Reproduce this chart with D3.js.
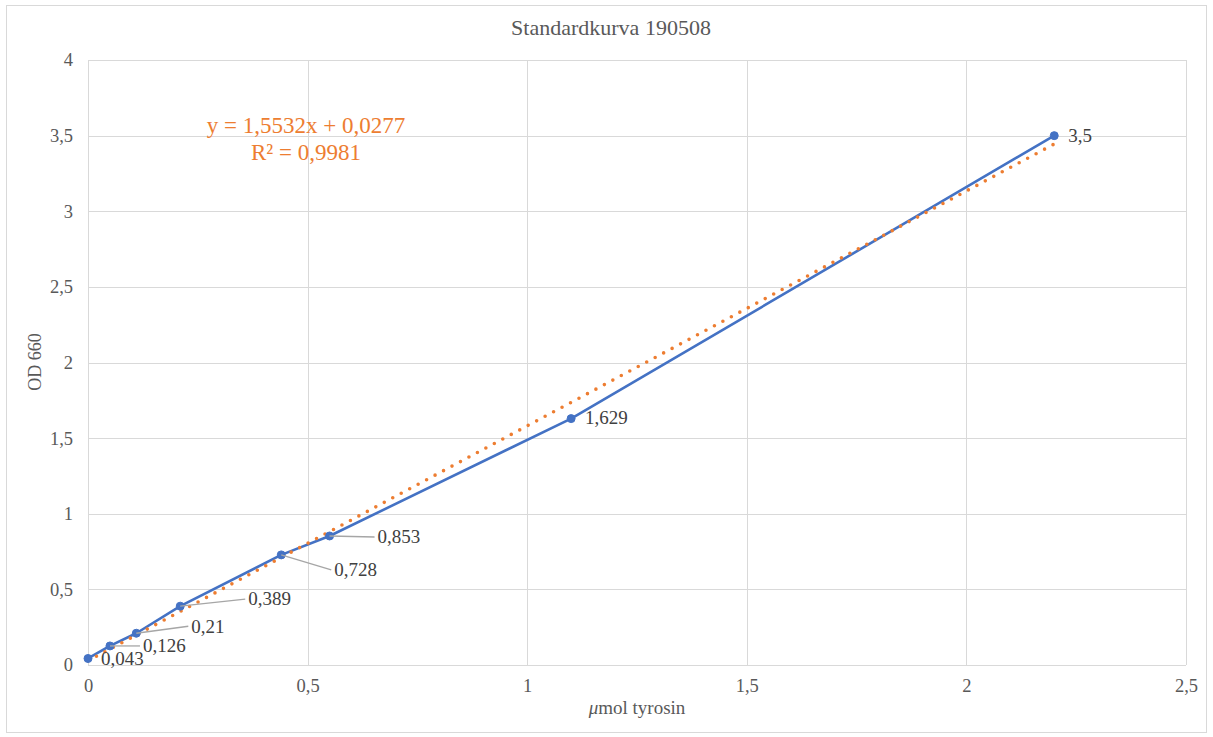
<!DOCTYPE html>
<html>
<head>
<meta charset="utf-8">
<script src="https://cdn.jsdelivr.net/npm/d3@7/dist/d3.min.js"></script>
<style>
  html, body { margin: 0; padding: 0; background: #fff; }
  svg { display: block; font-family: "Liberation Serif", "Times New Roman", serif; }
</style>
</head>
<body>
<svg id="chart" width="1213" height="737"></svg>
<script>
// ---- data ----
const xValues = [0, 0.05, 0.11, 0.21, 0.44, 0.55, 1.1, 2.2];
const yValues = [0.043, 0.126, 0.21, 0.389, 0.728, 0.853, 1.629, 3.5];
const trendSlope = 1.5532;
const trendIntercept = 0.0277;
const trendR2 = 0.9981;
const xTicks = [0, 0.5, 1, 1.5, 2, 2.5];
const yTicks = [0, 0.5, 1, 1.5, 2, 2.5, 3, 3.5, 4];
const chartTitle = "Standardkurva 190508";
const yTitle = "OD 660";

// ---- layout (label placement, pixels) ----
const labelLayout = [
  {dx: 13, dy: 0, leader: false},
  {dx: 33, dy: 0, leader: true},
  {dx: 55, dy: -7, leader: true},
  {dx: 68, dy: -7, leader: true},
  {dx: 53, dy: 15, leader: true},
  {dx: 48, dy: 1, leader: true},
  {dx: 14, dy: -1, leader: false},
  {dx: 14, dy: 0, leader: false}
];

const svg = d3.select("#chart");
const plot = {left: 88, right: 1186, top: 60, bottom: 665};

const locale = d3.formatLocale({decimal: ",", thousands: " ", grouping: [3], currency: ["", ""]});
const fmt = v => locale.format("")(v);

// chart border
svg.append("rect").attr("x", 6.5).attr("y", 5.5).attr("width", 1200).attr("height", 727)
  .attr("fill", "#fff").attr("stroke", "#D9D9D9").attr("stroke-width", 1);

const x = d3.scaleLinear().domain([0, 2.5]).range([plot.left, plot.right]);
const y = d3.scaleLinear().domain([0, 4]).range([plot.bottom, plot.top]);

// gridlines
const grid = svg.append("g");
grid.selectAll("line.h").data(yTicks).join("line")
  .attr("x1", plot.left).attr("x2", plot.right)
  .attr("y1", d => Math.round(y(d)) + 0.5).attr("y2", d => Math.round(y(d)) + 0.5)
  .attr("stroke", "#D9D9D9").attr("stroke-width", 1);
grid.selectAll("line.v").data(xTicks).join("line")
  .attr("y1", plot.top).attr("y2", plot.bottom)
  .attr("x1", d => Math.round(x(d)) + 0.5).attr("x2", d => Math.round(x(d)) + 0.5)
  .attr("stroke", "#D9D9D9").attr("stroke-width", 1);

// axes (labels only, via d3 axes)
const xAxis = svg.append("g").attr("transform", `translate(0,${plot.bottom})`)
  .call(d3.axisBottom(x).tickValues(xTicks).tickFormat(fmt).tickSize(0).tickPadding(14));
const yAxis = svg.append("g").attr("transform", `translate(${plot.left},0)`)
  .call(d3.axisLeft(y).tickValues(yTicks).tickFormat(fmt).tickSize(0).tickPadding(15));
[xAxis, yAxis].forEach(a => {
  a.select(".domain").remove();
  a.attr("font-family", "Liberation Serif");
  a.selectAll("text").attr("font-family", "Liberation Serif").attr("font-size", 18.5).attr("fill", "#595959");
});

// title
svg.append("text").attr("x", 611).attr("y", 35).attr("text-anchor", "middle")
  .attr("font-size", 22).attr("fill", "#595959").text(chartTitle);

// x axis title
const xt = svg.append("text").attr("x", 637).attr("y", 714).attr("text-anchor", "middle")
  .attr("font-size", 19).attr("fill", "#595959");
xt.append("tspan").attr("font-style", "italic").text("μ");
xt.append("tspan").text("mol tyrosin");

// y axis title
svg.append("text").attr("transform", "translate(41,362) rotate(-90)").attr("text-anchor", "middle")
  .attr("font-size", 18).attr("fill", "#595959").text(yTitle);

const pts = xValues.map((v, i) => ({x: v, y: yValues[i], lay: labelLayout[i]}));

// series line
svg.append("path").datum(pts)
  .attr("d", d3.line().x(d => x(d.x)).y(d => y(d.y)))
  .attr("fill", "none").attr("stroke", "#4472C4").attr("stroke-width", 2.6)
  .attr("stroke-linejoin", "round");

// trendline
const xMin = d3.min(xValues), xMax = d3.max(xValues);
svg.append("path").datum([xMin, xMax])
  .attr("d", d3.line().x(d => x(d)).y(d => y(trendSlope * d + trendIntercept)))
  .attr("fill", "none").attr("stroke", "#ED7D31").attr("stroke-width", 3.6)
  .attr("stroke-linecap", "round").attr("stroke-dasharray", "0 9.6");

// markers
svg.selectAll("circle.m").data(pts).join("circle")
  .attr("cx", d => x(d.x)).attr("cy", d => y(d.y)).attr("r", 4)
  .attr("fill", "#4472C4").attr("stroke", "#4472C4");

// leader lines
svg.selectAll("line.leader").data(pts.filter(d => d.lay.leader)).join("line")
  .attr("x1", d => x(d.x)).attr("y1", d => y(d.y))
  .attr("x2", d => x(d.x) + d.lay.dx - 3).attr("y2", d => y(d.y) + d.lay.dy)
  .attr("stroke", "#A6A6A6").attr("stroke-width", 1.3);

// data labels
svg.selectAll("text.dl").data(pts).join("text")
  .attr("x", d => x(d.x) + d.lay.dx).attr("y", d => y(d.y) + d.lay.dy)
  .attr("dy", "0.33em")
  .attr("font-size", 19).attr("fill", "#404040")
  .text(d => fmt(d.y));

// equation
const eq = svg.append("text").attr("text-anchor", "middle").attr("fill", "#ED7D31").attr("font-size", 23);
eq.append("tspan").attr("x", 306).attr("y", 133)
  .text(`y = ${fmt(trendSlope)}x + ${fmt(trendIntercept)}`);
eq.append("tspan").attr("x", 306).attr("y", 160)
  .text(`R² = ${fmt(trendR2)}`);
</script>
</body>
</html>
